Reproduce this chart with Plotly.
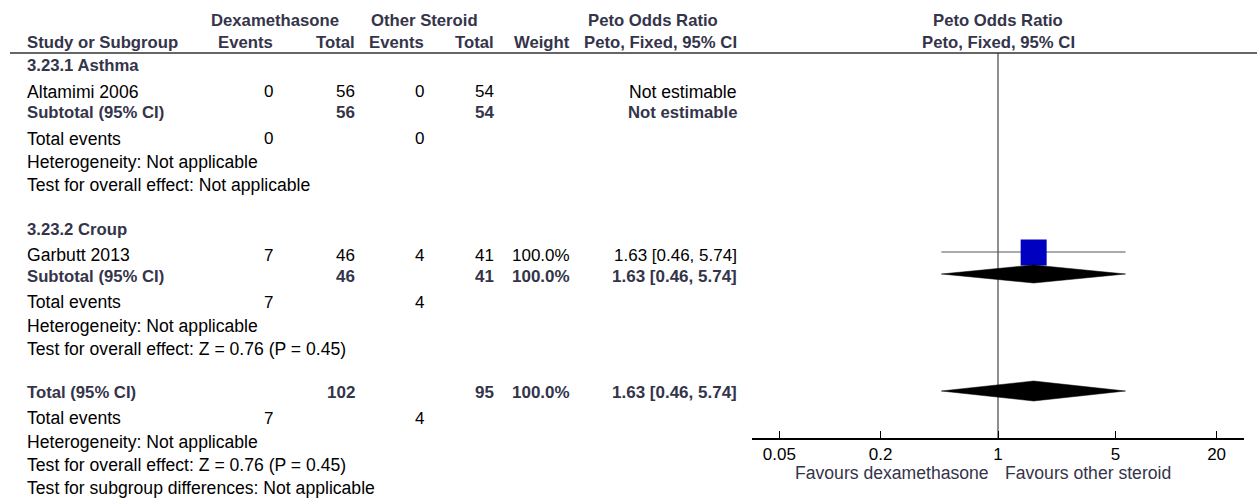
import plotly.graph_objects as go

# ---------------- data ----------------
subgroup_names = ["3.23.1 Asthma", "3.23.2 Croup"]
study_names = ["Altamimi 2006", "Garbutt 2013"]
dex_events = [0, 7]
dex_total = [56, 46]
oth_events = [0, 4]
oth_total = [54, 41]
study_weight = [None, 100.0]
study_or = [None, 1.63]
study_lo = [None, 0.46]
study_hi = [None, 5.74]

sub_dex_total = [56, 46]
sub_oth_total = [54, 41]
sub_weight = [None, 100.0]
sub_or = [None, 1.63]
sub_lo = [None, 0.46]
sub_hi = [None, 5.74]
sub_events_dex = [0, 7]
sub_events_oth = [0, 4]
sub_heterogeneity = ["Heterogeneity: Not applicable", "Heterogeneity: Not applicable"]
sub_overall = ["Test for overall effect: Not applicable", "Test for overall effect: Z = 0.76 (P = 0.45)"]

tot_dex = 102
tot_oth = 95
tot_weight = 100.0
tot_or = 1.63
tot_lo = 0.46
tot_hi = 5.74
tot_events_dex = 7
tot_events_oth = 4
tot_lines = ["Heterogeneity: Not applicable",
             "Test for overall effect: Z = 0.76 (P = 0.45)",
             "Test for subgroup differences: Not applicable"]

tick_vals = [0.05, 0.2, 1, 5, 20]
tick_text = ["0.05", "0.2", "1", "5", "20"]
favours_left = "Favours dexamethasone"
favours_right = "Favours other steroid"

# ---------------- layout constants ----------------
W, H = 1257, 498
FONT = "Liberation Sans, Arial, sans-serif"
FS_NUM = 17      # numbers
FS_TXT = 17.6    # regular words
FS_BOLD = 16.7   # bold words
DARK = "#34344a"
AX_BOTTOM = 438

def px(x):
    return x / W

def py(y):
    return 1 - y / H

ann = []

def txt(x, y, s, anchor="left", bold=False, color=None, size=None):
    if size is None:
        size = FS_BOLD if bold else FS_TXT
    ann.append(dict(
        x=px(x), y=py(y), xref="paper", yref="paper", text=(f"<b>{s}</b>" if bold else s),
        showarrow=False, xanchor=anchor, yanchor="middle", borderpad=0, borderwidth=0,
        font=dict(family=FONT, size=size, color=color or (DARK if bold else "#000000"))))

def num(x, y, s, bold=False):
    txt(x, y, s, "right", bold, size=FS_NUM)

# column positions
X_STUDY = 27
X_DEV = 273
X_DET = 355
X_OEV = 424
X_OT = 494
X_W = 570
X_CI = 737

def ci_str(o, l, h):
    return f"{o:.2f} [{l:.2f}, {h:.2f}]"

# headers
txt(275, 20, "Dexamethasone", "center", True)
txt(424.5, 20, "Other Steroid", "center", True)
txt(653, 20, "Peto Odds Ratio", "center", True)
txt(998, 20, "Peto Odds Ratio", "center", True)
txt(X_STUDY, 43, "Study or Subgroup", "left", True)
txt(X_DEV, 43, "Events", "right", True)
txt(X_DET, 43, "Total", "right", True)
txt(X_OEV, 43, "Events", "right", True)
txt(X_OT, 43, "Total", "right", True)
txt(X_W, 43, "Weight", "right", True)
txt(X_CI, 43, "Peto, Fixed, 95% CI", "right", True)
txt(998, 43, "Peto, Fixed, 95% CI", "center", True)

# row y positions for each subgroup block
blocks = [
    dict(head=66, study=92, sub=113, te=139, het=162, ov=185),
    dict(head=230, study=255, sub=276, te=302, het=326, ov=349),
]
DIAMOND_H = 9

traces = []
for i, b in enumerate(blocks):
    txt(X_STUDY, b["head"], subgroup_names[i], "left", True)
    # study row
    txt(X_STUDY, b["study"], study_names[i])
    num(X_DEV, b["study"], str(dex_events[i]))
    num(X_DET, b["study"], str(dex_total[i]))
    num(X_OEV, b["study"], str(oth_events[i]))
    num(X_OT, b["study"], str(oth_total[i]))
    if study_or[i] is None:
        txt(X_CI, b["study"], "Not estimable", "right")
    else:
        num(X_W, b["study"], f"{study_weight[i]:.1f}%")
        num(X_CI, b["study"], ci_str(study_or[i], study_lo[i], study_hi[i]))
        traces.append(go.Scatter(x=[study_lo[i], study_hi[i]], y=[b["study"] - 3] * 2, mode="lines",
                                 line=dict(color="#555555", width=1), hoverinfo="skip"))
        traces.append(go.Scatter(x=[study_or[i]], y=[b["study"] - 2.5], mode="markers",
                                 marker=dict(symbol="square", size=26 * study_weight[i] / 100.0,
                                             color="#0000c0", line=dict(width=0)), hoverinfo="skip"))
    # subtotal row
    txt(X_STUDY, b["sub"], "Subtotal (95% CI)", "left", True)
    num(X_DET, b["sub"], str(sub_dex_total[i]), True)
    num(X_OT, b["sub"], str(sub_oth_total[i]), True)
    if sub_or[i] is None:
        txt(X_CI, b["sub"], "Not estimable", "right", True)
    else:
        num(X_W, b["sub"], f"{sub_weight[i]:.1f}%", True)
        num(X_CI, b["sub"], ci_str(sub_or[i], sub_lo[i], sub_hi[i]), True)
        yc = b["sub"] - 2
        traces.append(go.Scatter(x=[sub_lo[i], sub_or[i], sub_hi[i], sub_or[i], sub_lo[i]],
                                 y=[yc, yc - DIAMOND_H, yc, yc + DIAMOND_H, yc],
                                 mode="lines", fill="toself", fillcolor="#000000",
                                 line=dict(color="#000000", width=0.5), hoverinfo="skip"))
    txt(X_STUDY, b["te"], "Total events")
    num(X_DEV, b["te"], str(sub_events_dex[i]))
    num(X_OEV, b["te"], str(sub_events_oth[i]))
    txt(X_STUDY, b["het"], sub_heterogeneity[i])
    txt(X_STUDY, b["ov"], sub_overall[i])

# overall
Y_TOT = 392
txt(X_STUDY, Y_TOT, "Total (95% CI)", "left", True)
num(X_DET, Y_TOT, str(tot_dex), True)
num(X_OT, Y_TOT, str(tot_oth), True)
num(X_W, Y_TOT, f"{tot_weight:.1f}%", True)
num(X_CI, Y_TOT, ci_str(tot_or, tot_lo, tot_hi), True)
yc = Y_TOT - 1
traces.append(go.Scatter(x=[tot_lo, tot_or, tot_hi, tot_or, tot_lo],
                         y=[yc, yc - DIAMOND_H - 1, yc, yc + DIAMOND_H + 1, yc],
                         mode="lines", fill="toself", fillcolor="#000000",
                         line=dict(color="#000000", width=0.5), hoverinfo="skip"))
txt(X_STUDY, 418, "Total events")
num(X_DEV, 418, str(tot_events_dex))
num(X_OEV, 418, str(tot_events_oth))
for k, s in enumerate(tot_lines):
    txt(X_STUDY, 441.5 + 23.3 * k, s)

# favours labels
txt(989, 473, favours_left, "right", color=DARK)
txt(1005, 473, favours_right, "left", color=DARK)

# null line
traces.insert(0, go.Scatter(x=[1, 1], y=[53, AX_BOTTOM], mode="lines",
                            line=dict(color="#444444", width=1.2), hoverinfo="skip"))

fig = go.Figure(traces)
fig.update_layout(
    width=W, height=H, margin=dict(l=0, r=0, t=0, b=0),
    paper_bgcolor="white", plot_bgcolor="white", showlegend=False,
    annotations=ann,
    shapes=[dict(type="line", xref="paper", yref="paper", x0=px(10), x1=1, y0=py(53), y1=py(53),
                 line=dict(color="#333333", width=1.5))],
    xaxis=dict(type="log", domain=[px(752), px(1244)], range=[-1.464, 1.464],
               tickvals=tick_vals, ticktext=tick_text, ticks="inside", ticklen=7, tickwidth=1.2,
               tickcolor="#000000", showline=True, linecolor="#000000", linewidth=1.5,
               showgrid=False, zeroline=False,
               tickfont=dict(family=FONT, size=FS_NUM, color="#000000")),
    yaxis=dict(domain=[(H - AX_BOTTOM) / H, 1], range=[AX_BOTTOM, 0], visible=False,
               showgrid=False, zeroline=False),
)
fig.write_html("out.html", config={"displayModeBar": False},
               post_script="document.body.style.margin='0px';document.body.style.overflow='hidden';")
